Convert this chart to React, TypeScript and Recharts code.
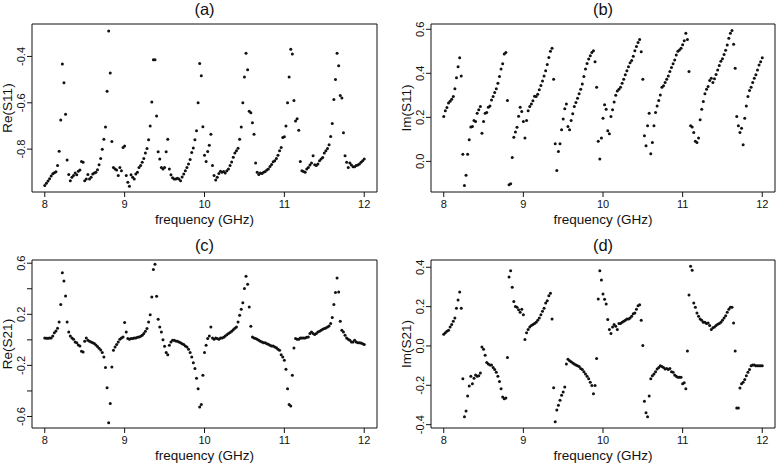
import React from "react";
import { ScatterChart, Scatter, XAxis, YAxis, ReferenceArea, Label } from "recharts";

const FONT = '"Liberation Sans", Arial, Helvetica, sans-serif';
const INK = "#111";

// frequency sweep, GHz (201 points)
const freq = [
  8.0, 8.02, 8.04, 8.06, 8.08, 8.1, 8.12, 8.14, 8.16, 8.18,
  8.2, 8.22, 8.24, 8.26, 8.28, 8.3, 8.32, 8.34, 8.36, 8.38,
  8.4, 8.42, 8.44, 8.46, 8.48, 8.5, 8.52, 8.54, 8.56, 8.58,
  8.6, 8.62, 8.64, 8.66, 8.68, 8.7, 8.72, 8.74, 8.76, 8.78,
  8.8, 8.82, 8.84, 8.86, 8.88, 8.9, 8.92, 8.94, 8.96, 8.98,
  9.0, 9.02, 9.04, 9.06, 9.08, 9.1, 9.12, 9.14, 9.16, 9.18,
  9.2, 9.22, 9.24, 9.26, 9.28, 9.3, 9.32, 9.34, 9.36, 9.38,
  9.4, 9.42, 9.44, 9.46, 9.48, 9.5, 9.52, 9.54, 9.56, 9.58,
  9.6, 9.62, 9.64, 9.66, 9.68, 9.7, 9.72, 9.74, 9.76, 9.78,
  9.8, 9.82, 9.84, 9.86, 9.88, 9.9, 9.92, 9.94, 9.96, 9.98,
  10.0, 10.02, 10.04, 10.06, 10.08, 10.1, 10.12, 10.14, 10.16, 10.18,
  10.2, 10.22, 10.24, 10.26, 10.28, 10.3, 10.32, 10.34, 10.36, 10.38,
  10.4, 10.42, 10.44, 10.46, 10.48, 10.5, 10.52, 10.54, 10.56, 10.58,
  10.6, 10.62, 10.64, 10.66, 10.68, 10.7, 10.72, 10.74, 10.76, 10.78,
  10.8, 10.82, 10.84, 10.86, 10.88, 10.9, 10.92, 10.94, 10.96, 10.98,
  11.0, 11.02, 11.04, 11.06, 11.08, 11.1, 11.12, 11.14, 11.16, 11.18,
  11.2, 11.22, 11.24, 11.26, 11.28, 11.3, 11.32, 11.34, 11.36, 11.38,
  11.4, 11.42, 11.44, 11.46, 11.48, 11.5, 11.52, 11.54, 11.56, 11.58,
  11.6, 11.62, 11.64, 11.66, 11.68, 11.7, 11.72, 11.74, 11.76, 11.78,
  11.8, 11.82, 11.84, 11.86, 11.88, 11.9, 11.92, 11.94, 11.96, 11.98,
  12.0,
];

const reS11 = [
  -0.957, -0.947, -0.937, -0.928, -0.916, -0.906, -0.902, -0.898, -0.871, -0.809,
  -0.674, -0.433, -0.514, -0.65, -0.847, -0.91, -0.936, -0.921, -0.914, -0.903,
  -0.911, -0.895, -0.89, -0.853, -0.857, -0.936, -0.929, -0.91, -0.929, -0.921,
  -0.907, -0.903, -0.9, -0.889, -0.867, -0.84, -0.8, -0.757, -0.704, -0.55,
  -0.29, -0.471, -0.767, -0.879, -0.886, -0.89, -0.914, -0.879, -0.893, -0.793,
  -0.786, -0.914, -0.943, -0.96, -0.911, -0.921, -0.929, -0.907, -0.9, -0.879,
  -0.871, -0.857, -0.84, -0.817, -0.797, -0.76, -0.7, -0.597, -0.414, -0.414,
  -0.657, -0.811, -0.843, -0.879, -0.886, -0.879, -0.811, -0.757, -0.886, -0.911,
  -0.924, -0.929, -0.929, -0.926, -0.929, -0.936, -0.92, -0.907, -0.893, -0.879,
  -0.864, -0.845, -0.815, -0.795, -0.76, -0.721, -0.6, -0.431, -0.483, -0.703,
  -0.826, -0.853, -0.81, -0.783, -0.736, -0.871, -0.914, -0.933, -0.921, -0.905,
  -0.895, -0.9, -0.897, -0.903, -0.893, -0.886, -0.871, -0.855, -0.835, -0.817,
  -0.807, -0.796, -0.757, -0.704, -0.6, -0.489, -0.386, -0.457, -0.636, -0.643,
  -0.686, -0.736, -0.86, -0.9, -0.91, -0.903, -0.905, -0.9, -0.897, -0.89,
  -0.886, -0.875, -0.866, -0.854, -0.85, -0.84, -0.826, -0.807, -0.793, -0.75,
  -0.747, -0.7, -0.6, -0.489, -0.369, -0.39, -0.59, -0.679, -0.669, -0.719,
  -0.853, -0.893, -0.896, -0.9, -0.886, -0.879, -0.869, -0.86, -0.829, -0.867,
  -0.871, -0.864, -0.85, -0.843, -0.836, -0.817, -0.807, -0.797, -0.781, -0.746,
  -0.689, -0.586, -0.5, -0.386, -0.44, -0.569, -0.579, -0.729, -0.829, -0.857,
  -0.879, -0.86, -0.869, -0.876, -0.876, -0.871, -0.868, -0.864, -0.857, -0.85,
  -0.843,
];

const imS11 = [
  0.204, 0.23, 0.245, 0.265, 0.273, 0.282, 0.295, 0.33, 0.38, 0.43,
  0.471, 0.388, 0.033, -0.11, -0.063, 0.033, 0.098, 0.156, 0.159, 0.186,
  0.181, 0.219, 0.234, 0.249, 0.128, 0.181, 0.219, 0.222, 0.246, 0.252,
  0.279, 0.295, 0.313, 0.33, 0.355, 0.385, 0.42, 0.443, 0.488, 0.494,
  0.276, -0.106, -0.101, 0.018, 0.11, 0.133, 0.155, 0.205, 0.246, 0.227,
  0.181, 0.106, 0.186, 0.23, 0.249, 0.261, 0.275, 0.296, 0.295, 0.305,
  0.325, 0.345, 0.365, 0.388, 0.412, 0.44, 0.472, 0.5, 0.514, 0.373,
  0.08, -0.041, 0.045, 0.08, 0.144, 0.193, 0.239, 0.261, 0.159, 0.144,
  0.186, 0.216, 0.249, 0.267, 0.287, 0.307, 0.328, 0.352, 0.385, 0.42,
  0.445, 0.465, 0.48, 0.494, 0.503, 0.453, 0.337, 0.091, 0.011, 0.106,
  0.196, 0.257, 0.237, 0.139, 0.125, 0.204, 0.234, 0.27, 0.3, 0.32,
  0.328, 0.337, 0.355, 0.373, 0.393, 0.412, 0.43, 0.448, 0.458, 0.478,
  0.503, 0.522, 0.54, 0.554, 0.498, 0.373, 0.116, 0.071, 0.162, 0.219,
  0.035, 0.086, 0.162, 0.222, 0.252, 0.276, 0.302, 0.337, 0.343, 0.358,
  0.373, 0.388, 0.408, 0.427, 0.443, 0.461, 0.483, 0.5, 0.506, 0.514,
  0.53, 0.548, 0.582, 0.554, 0.408, 0.162, 0.156, 0.131, 0.091, 0.086,
  0.106, 0.189, 0.237, 0.272, 0.307, 0.328, 0.34, 0.367, 0.378, 0.358,
  0.375, 0.395, 0.415, 0.435, 0.455, 0.466, 0.485, 0.505, 0.529, 0.559,
  0.582, 0.594, 0.532, 0.423, 0.204, 0.162, 0.131, 0.151, 0.076, 0.196,
  0.252, 0.295, 0.322, 0.337, 0.358, 0.378, 0.393, 0.415, 0.438, 0.453,
  0.471,
];

const reS21 = [
  0.015, 0.013, 0.012, 0.015, 0.015, 0.03, 0.055, 0.07, 0.09, 0.14,
  0.276, 0.526, 0.461, 0.343, 0.14, 0.062, 0.03, 0.015, 0.004, -0.017,
  -0.022, -0.04, -0.048, -0.09, -0.095, -0.011, 0.015, -0.003, -0.011, -0.017,
  -0.022, -0.028, -0.04, -0.052, -0.065, -0.08, -0.1, -0.134, -0.217, -0.374,
  -0.648, -0.499, -0.212, -0.082, -0.056, -0.037, -0.017, 0.004, 0.015, 0.023,
  0.135, 0.062, 0.01, 0.004, 0.01, 0.01, 0.015, 0.015, 0.02, 0.023,
  0.028, 0.036, 0.049, 0.067, 0.088, 0.14, 0.197, 0.336, 0.55, 0.591,
  0.341, 0.161, 0.101, 0.062, 0.0, -0.05, -0.1, -0.116, -0.043, -0.017,
  -0.003, -0.003, -0.009, -0.011, -0.017, -0.022, -0.03, -0.037, -0.048, -0.056,
  -0.074, -0.1, -0.134, -0.18, -0.225, -0.3, -0.382, -0.525, -0.507, -0.277,
  -0.1, -0.043, 0.01, 0.03, 0.1, 0.015, 0.004, 0.015, 0.01, 0.004,
  0.015, 0.015, 0.02, 0.03, 0.04, 0.049, 0.058, 0.068, 0.08, 0.09,
  0.101, 0.14, 0.192, 0.24, 0.291, 0.401, 0.497, 0.435, 0.257, 0.106,
  0.023, 0.015, 0.01, 0.004, -0.003, -0.011, -0.017, -0.022, -0.022, -0.03,
  -0.035, -0.043, -0.048, -0.048, -0.056, -0.061, -0.074, -0.082, -0.116, -0.134,
  -0.16, -0.23, -0.382, -0.507, -0.517, -0.277, -0.064, 0.01, 0.004, 0.004,
  0.015, 0.015, 0.015, 0.015, 0.02, 0.023, 0.049, 0.062, 0.049, 0.041,
  0.049, 0.062, 0.067, 0.075, 0.083, 0.088, 0.093, 0.1, 0.109, 0.127,
  0.174, 0.276, 0.37, 0.484, 0.375, 0.145, 0.075, 0.062, 0.036, 0.015,
  0.004, -0.003, -0.017, -0.017, -0.003, -0.017, -0.022, -0.022, -0.025, -0.03,
  -0.037,
];

const imS21 = [
  0.059, 0.067, 0.075, 0.08, 0.097, 0.109, 0.126, 0.142, 0.192, 0.234,
  0.274, 0.192, -0.167, -0.36, -0.331, -0.254, -0.204, -0.154, -0.192, -0.164,
  -0.147, -0.154, -0.151, -0.137, -0.005, -0.017, -0.047, -0.084, -0.092, -0.097,
  -0.097, -0.109, -0.12, -0.134, -0.154, -0.181, -0.218, -0.259, -0.268, -0.264,
  -0.059, 0.351, 0.382, 0.298, 0.226, 0.201, 0.197, 0.184, 0.171, 0.187,
  0.159, 0.033, 0.067, 0.084, 0.097, 0.104, 0.109, 0.114, 0.121, 0.131,
  0.142, 0.159, 0.176, 0.192, 0.218, 0.23, 0.255, 0.268, 0.137, -0.213,
  -0.385, -0.326, -0.301, -0.276, -0.251, -0.234, -0.209, -0.092, -0.067, -0.075,
  -0.08, -0.087, -0.092, -0.097, -0.1, -0.105, -0.114, -0.12, -0.131, -0.142,
  -0.154, -0.167, -0.184, -0.201, -0.243, -0.201, -0.064, 0.239, 0.382, 0.335,
  0.264, 0.238, 0.213, 0.134, 0.084, 0.064, 0.097, 0.109, 0.1, 0.084,
  0.114, 0.114, 0.121, 0.126, 0.131, 0.137, 0.137, 0.142, 0.151, 0.164,
  0.167, 0.187, 0.204, 0.21, 0.131, 0.003, -0.281, -0.34, -0.36, -0.254,
  -0.167, -0.151, -0.142, -0.131, -0.117, -0.109, -0.1, -0.104, -0.109, -0.117,
  -0.114, -0.12, -0.114, -0.131, -0.134, -0.147, -0.154, -0.159, -0.159, -0.159,
  -0.192, -0.187, -0.218, -0.025, 0.259, 0.405, 0.385, 0.218, 0.197, 0.167,
  0.151, 0.137, 0.131, 0.121, 0.121, 0.114, 0.117, 0.104, 0.084, 0.092,
  0.097, 0.104, 0.11, 0.114, 0.121, 0.131, 0.142, 0.154, 0.171, 0.187,
  0.197, 0.197, 0.117, -0.025, -0.315, -0.315, -0.214, -0.192, -0.184, -0.171,
  -0.151, -0.134, -0.12, -0.1, -0.097, -0.097, -0.1, -0.1, -0.1, -0.1,
  -0.1,
];

const xTicks = [8, 9, 10, 11, 12];
const X_DOMAIN: [number, number] = [7.84, 12.16];

const yTicksA = [-0.8, -0.6, -0.4];
const yTicksB = [0.0, 0.2, 0.4, 0.6];
const yTicksC = [-0.6, -0.4, -0.2, 0.0, 0.2, 0.4, 0.6];
const yLabelsC = [-0.6, -0.2, 0.2, 0.6];
const yTicksD = [-0.4, -0.2, 0.0, 0.2, 0.4];

const toRows = (vals: number[]) => freq.map((f, i) => ({ f, v: vals[i] }));

const Dot = (p: any) => <circle cx={p.cx} cy={p.cy} r={1.5} fill={INK} />;

const fmt = (v: number) => (Math.abs(v) < 1e-9 ? "0.0" : v.toFixed(1));

const Panel = ({ left, top, height, title, yName, values, yDomain, yTicks, yLabels }: any) => {
  const data = toRows(values);
  const shown = yLabels || yTicks;
  const xAxisH = height - 24 - 168;
  return (
    <div style={{ position: "absolute", left, top }}>
      <ScatterChart
        width={left === 0 ? 388 : 378}
        height={height}
        margin={{ top: 24, right: left === 0 ? 11 : 2, bottom: 0, left: 0 }}
        style={{ fontFamily: FONT }}
      >
        <XAxis
          type="number"
          dataKey="f"
          domain={X_DOMAIN}
          allowDataOverflow
          ticks={xTicks}
          height={xAxisH}
          axisLine={false}
          tickLine={{ stroke: INK }}
          tickSize={5}
          tickMargin={0}
          tick={(p: any) => (
            <text x={p.x} y={p.y + 7} textAnchor="middle" dominantBaseline="central" fontSize={11} fill={INK} fontFamily={FONT}>
              {p.payload.value}
            </text>
          )}
        >
          <Label
            content={(p: any) => {
              const vb = p.viewBox || {};
              return (
                <text x={vb.x + vb.width / 2} y={vb.y + 27.5} textAnchor="middle" dominantBaseline="central" fontSize={13.5} fill={INK} fontFamily={FONT}>
                  frequency (GHz)
                </text>
              );
            }}
          />
        </XAxis>
        <YAxis
          type="number"
          dataKey="v"
          domain={yDomain}
          allowDataOverflow
          ticks={yTicks}
          width={32}
          axisLine={false}
          tickLine={{ stroke: INK }}
          tickSize={5}
          tickMargin={0}
          tick={(p: any) =>
            shown.some((s: number) => Math.abs(s - p.payload.value) < 1e-6) ? (
              <text
                transform={`translate(${p.x - 6},${p.y}) rotate(-90)`}
                textAnchor="middle"
                dy="0.35em"
                fontSize={11}
                fill={INK}
                fontFamily={FONT}
              >
                {fmt(p.payload.value)}
              </text>
            ) : (
              <g />
            )
          }
        >
          <Label
            content={(p: any) => {
              const vb = p.viewBox || {};
              const cx = vb.x + vb.width - 24.5;
              const cy = vb.y + vb.height / 2;
              return (
                <text transform={`translate(${cx},${cy}) rotate(-90)`} textAnchor="middle" dy="0.35em" fontSize={13.5} fill={INK} fontFamily={FONT}>
                  {yName}
                </text>
              );
            }}
          />
        </YAxis>
        <ReferenceArea
          x1={X_DOMAIN[0]}
          x2={X_DOMAIN[1]}
          y1={yDomain[0]}
          y2={yDomain[1]}
          fill="none"
          fillOpacity={0}
          stroke={INK}
          strokeWidth={1}
          ifOverflow="visible"
        >
          <Label
            content={(p: any) => {
              const vb = p.viewBox || {};
              return (
                <text x={vb.x + vb.width / 2} y={vb.y - 15} textAnchor="middle" dominantBaseline="central" fontSize={16.5} fill={INK} fontFamily={FONT}>
                  {title}
                </text>
              );
            }}
          />
        </ReferenceArea>
        <Scatter data={data} shape={Dot} isAnimationActive={false} />
      </ScatterChart>
    </div>
  );
};

export default function App() {
  return (
    <div style={{ position: "absolute", left: 0, top: 0, width: 777, height: 464, background: "#fff", overflow: "hidden" }}>
      <Panel left={0} top={0} height={232} title="(a)" yName="Re(S11)" values={reS11} yDomain={[-0.985, -0.26]} yTicks={yTicksA} />
      <Panel left={399} top={0} height={232} title="(b)" yName="Im(S11)" values={imS11} yDomain={[-0.139, 0.624]} yTicks={yTicksB} />
      <Panel left={0} top={236} height={228} title="(c)" yName="Re(S21)" values={reS21} yDomain={[-0.69, 0.625]} yTicks={yTicksC} yLabels={yLabelsC} />
      <Panel left={399} top={236} height={228} title="(d)" yName="Im(S21)" values={imS21} yDomain={[-0.417, 0.437]} yTicks={yTicksD} />
    </div>
  );
}
